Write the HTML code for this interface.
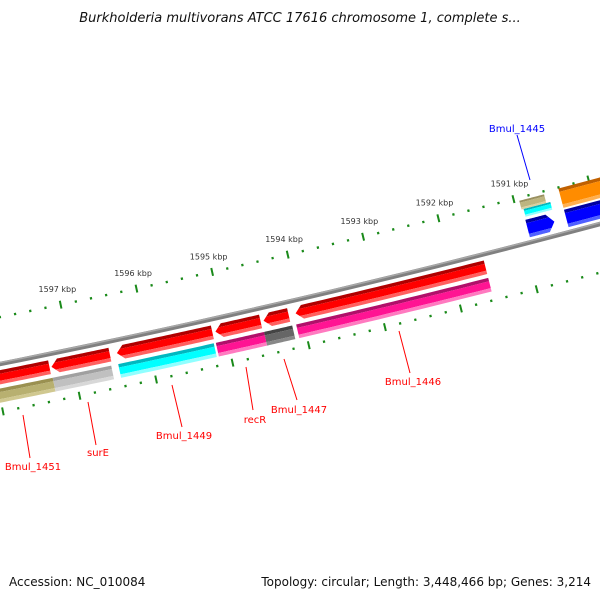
<!DOCTYPE html>
<html><head><meta charset="utf-8"><style>
html,body{margin:0;padding:0;background:#fff}
svg{display:block}
</style></head><body>
<svg id="chart" width="600" height="600" xmlns="http://www.w3.org/2000/svg" font-family="'DejaVu Sans','Liberation Sans',sans-serif">
<rect width="600" height="600" fill="#fff"/>
<text x="300" y="22" text-anchor="middle" font-size="13" font-style="italic" fill="#111">Burkholderia multivorans ATCC 17616 chromosome 1, complete s...</text>
<g id="defs-g"></g>
<g id="ticks"></g>
<g id="features"></g>
<g id="backbone"></g>
<g id="labels"></g>
<text x="9" y="586" font-size="12" fill="#111">Accession: NC_010084</text>
<text x="591" y="586" text-anchor="end" font-size="12" fill="#111">Topology: circular; Length: 3,448,466 bp; Genes: 3,214</text>
</svg>
<script>
// ---- data ----
const majorTicksKbp = [1597, 1596, 1595, 1594, 1593, 1592, 1591];
const tickLabels = ["1597 kbp","1596 kbp","1595 kbp","1594 kbp","1593 kbp","1592 kbp","1591 kbp"];
const featNames = ["gene-a","Bmul_1451-region","surE","Bmul_1449","recR","Bmul_1447","Bmul_1446","olive-feature","surE-cds","Bmul_1449-cds","recR-cds","Bmul_1447-cds","Bmul_1446-cds","Bmul_1445","Bmul_1445-cyan","Bmul_1445-tan","orange-feature","blue-feature"];
const featStart = [1597303,1598500,1596512,1595167,1594533,1594164,1591566,1597290,1596525,1595180,1594520,1594150,1591566,1590563,1590550,1590603,1589500,1589500];
const featEnd   = [1598500,1598500,1597277,1596420,1595127,1594494,1594072,1598500,1597290,1596433,1595153,1594520,1594098,1590919,1590906,1590933,1590405,1590405];
const featRow   = ["o1","o1","o1","o1","o1","o1","o1","o2","o2","o2","o2","o2","o2","i1","i2a","i2b","i2","i1"];
const featHead  = ["hi","none","hi","hi","hi","hi","hi","none","none","none","none","none","none","lo","none","none","none","none"];
const featColor = ["red","red","red","red","red","red","red","olive","lgray","cyan","magenta","dgray","magenta","blue","cyan","tan","orange","blue"];

// ---- geometry ----
function circ(p1,p2,p3){
  const [ax,ay]=p1,[bx,by]=p2,[cx,cy]=p3;
  const d=2*(ax*(by-cy)+bx*(cy-ay)+cx*(ay-by));
  const ux=((ax*ax+ay*ay)*(by-cy)+(bx*bx+by*by)*(cy-ay)+(cx*cx+cy*cy)*(ay-by))/d;
  const uy=((ax*ax+ay*ay)*(cx-bx)+(bx*bx+by*by)*(ax-cx)+(cx*cx+cy*cy)*(bx-ax))/d;
  return [ux,uy,Math.hypot(ax-ux,ay-uy)];
}
const [CX,CY,R0]=circ([0,364],[300,299],[600,224]);
function angAtX(x){const y=CY+Math.sqrt(R0*R0-(x-CX)*(x-CX));return Math.atan2(y-CY,x-CX);}
const A1=angAtX(70), A2=angAtX(525);
function ang(bp){return A1+(bp-1597000)/(1591000-1597000)*(A2-A1);}
function pt(bp,r){const a=ang(bp);return [CX+r*Math.cos(a),CY+r*Math.sin(a)];}
const NS="http://www.w3.org/2000/svg";
function mk(tag,attrs,parent){const e=document.createElementNS(NS,tag);for(const k in attrs)e.setAttribute(k,attrs[k]);parent.appendChild(e);return e;}
function arcPts(b1,b2,r){const n=24,out=[];for(let i=0;i<=n;i++){out.push(pt(b1+(b2-b1)*i/n,r));}return out;}
function poly(p){return p.map(q=>q[0].toFixed(2)+","+q[1].toFixed(2)).join(" ");}

const rows={o1:[6,20],o2:[24,38],i1:[-23,-5],i2:[-45,-25],i2a:[-34,-26],i2b:[-43,-34]};
const cols={red:["#b00000","#ff0000","#ff6060"],olive:["#9a9050","#b8b070","#d0c890"],lgray:["#a0a0a0","#c0c0c0","#d8d8d8"],
 cyan:["#00b8c0","#00ffff","#90ffff"],magenta:["#b0106a","#ff1493","#ff7ac0"],dgray:["#444","#666","#888"],
 blue:["#0000a0","#0000ff","#5060ff"],tan:["#9a9060","#bdb580","#d8d0a0"],orange:["#c06000","#ff8c00","#ffb050"]};

// ticks
const tg=document.getElementById('ticks');
[-46,47].forEach((rr,ri)=>{
  for(let bp=1599000;bp>=1588800;bp-=200){
    const major=(bp%1000===0);
    const r=R0+rr;
    const p1=pt(bp,r-(major?4:1.2)),p2=pt(bp,r+(major?4:1.2));
    const l=mk('line',{x1:p1[0],y1:p1[1],x2:p2[0],y2:p2[1],stroke:'#1a8a1a','stroke-width':major?2:2.2},tg);
    
    
  }
});
majorTicksKbp.forEach((k,i)=>{
  const p=pt(k*1000,R0-62);
  const t=mk('text',{x:p[0],y:p[1]+3,'text-anchor':'middle','font-size':8,fill:'#333'},tg);
  t.textContent=tickLabels[i];
  
  
});

// features
const fg=document.getElementById('features');
const dg=document.getElementById('defs-g');
const defs=mk('defs',{},dg);
featStart.forEach((s,i)=>{
  const e=featEnd[i];
  const r1=R0+rows[featRow[i]][0], r2=R0+rows[featRow[i]][1];
  const head=featHead[i];
  const hl=90, rm=(r1+r2)/2;
  let pts;
  if(head==='hi'){
    pts=arcPts(s,e-hl,r1).concat([pt(e,rm)]).concat(arcPts(e-hl,s,r2));
  }else if(head==='lo'){
    pts=arcPts(s+hl,e,r1).concat(arcPts(e,s+hl,r2)).concat([pt(s,rm)]);
  }else{
    pts=arcPts(s,e,r1).concat(arcPts(e,s,r2));
  }
  const cp=mk('clipPath',{id:'cp'+i},defs);
  mk('polygon',{points:poly(pts)},cp);
  const g=mk('g',{'clip-path':'url(#cp'+i+')'},fg);
  
  
  const c=cols[featColor[i]];
  const th=(r2-r1)>10?3.5:2;
  const bands=[[r1-1,r1+th,c[0]],[r1+th,r2-th,c[1]],[r2-th,r2+1,c[2]]];
  bands.forEach(b=>{
    const bp=arcPts(s-50,e+50,b[0]).concat(arcPts(e+50,s-50,b[1]));
    mk('polygon',{points:poly(bp),fill:b[2]},g);
  });
});

// backbone
const bg=document.getElementById('backbone');
const bbPts=arcPts(1599500,1588500,R0);
const bb=mk('polyline',{points:poly(bbPts),fill:'none',stroke:'#808080','stroke-width':4.5},bg);


const bbh=mk('polyline',{points:poly(arcPts(1599500,1588500,R0-1.3)),fill:'none',stroke:'#a8a8a8','stroke-width':1.5},bg);



// labels
const lg=document.getElementById('labels');
const labText=["Bmul_1451","surE","Bmul_1449","recR","Bmul_1447","Bmul_1446","Bmul_1445"];
const labTx=[33,98,184,255,299,413,517];
const labTy=[470,456,439,423,413,385,132];
const labCol=["#f00","#f00","#f00","#f00","#f00","#f00","#00f"];
const lineSeg=[[23,415,30,458],[88,402,96,445],[172,385,182,427],[246,367,253,410],[284,359,297,400],[399,331,410,373],[517,135,530,180]];
labText.forEach((s,i)=>{
  const L=lineSeg[i];
  const ln=mk('line',{x1:L[0],y1:L[1],x2:L[2],y2:L[3],stroke:labCol[i],'stroke-width':1},lg);
  
  
  const t=mk('text',{x:labTx[i],y:labTy[i],'text-anchor':'middle','font-size':10,fill:labCol[i]},lg);
  t.textContent=s;
  
  
});
</script>
</body></html>
